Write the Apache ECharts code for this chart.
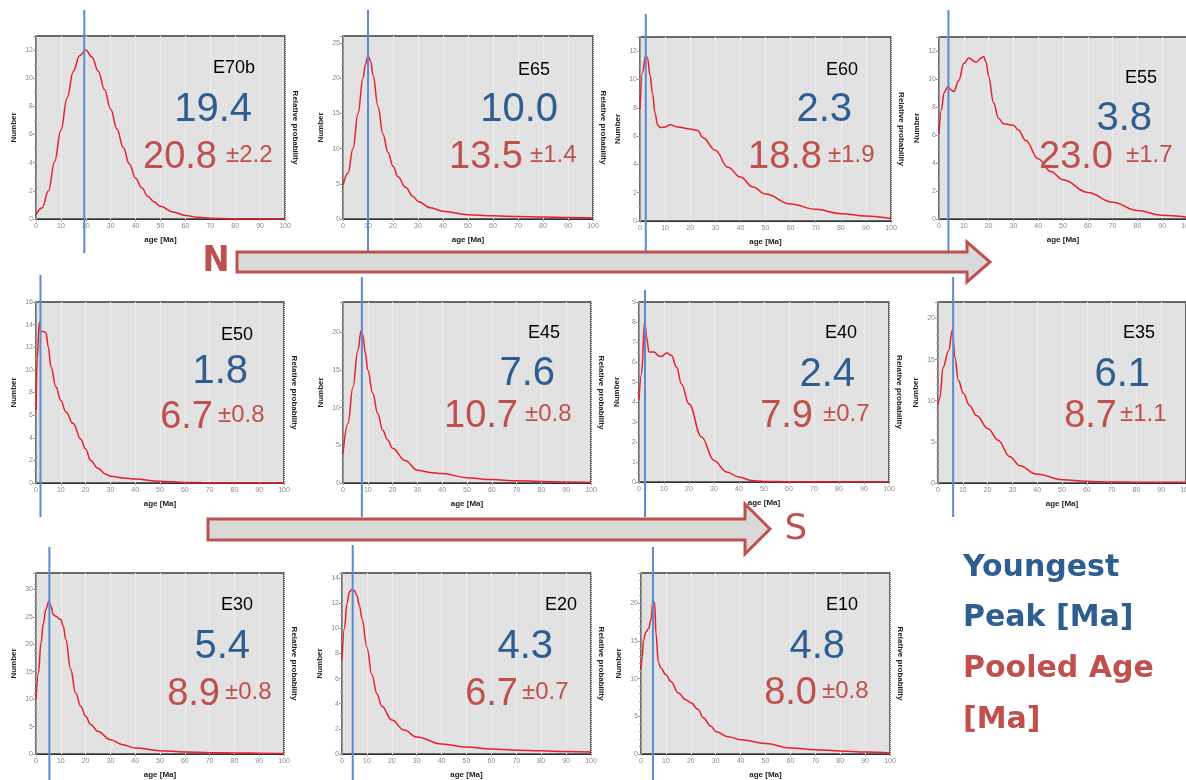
<!DOCTYPE html>
<html>
<head>
<meta charset="utf-8">
<script src="https://cdn.jsdelivr.net/npm/echarts@6/dist/echarts.min.js"></script>
<style>html,body{margin:0;padding:0;background:#fff}#c{width:1186px;height:780px}</style>
</head>
<body>
<div id="c"></div>
<script>
// ---------------- DATA ----------------
const panelNames   = ['E70b','E65','E60','E55','E50','E45','E40','E35','E30','E20','E10'];
const youngestPeak = [19.4, 10.0, 2.3, 3.8, 1.8, 7.6, 2.4, 6.1, 5.4, 4.3, 4.8];
const pooledAge    = [20.8, 13.5, 18.8, 23.0, 6.7, 10.7, 7.9, 8.7, 8.9, 6.7, 8.0];
const pooledErr    = [2.2, 1.4, 1.9, 1.7, 0.8, 0.8, 0.7, 1.1, 0.8, 0.7, 0.8];
const yAxisMax     = [13, 26, 13, 13, 16, 24, 9, 22, 33, 14.4, 24];
const yAxisStep    = [2, 5, 2, 2, 2, 5, 1, 5, 5, 2, 5];
const xAxisTicks   = [0, 10, 20, 30, 40, 50, 60, 70, 80, 90, 100];

const ageE70b = [0,2.5,5,7.5,10,12.5,15,17.5,20,22.5,25,27.5,30,32.5,35,37.5,40,42.5,45,47.5,50,55,60,65,70,80,100];
const numE70b = [0.3,0.8,2.0,4.1,6.3,8.6,10.5,11.6,12,11.5,10.5,9.2,7.8,6.4,5.1,3.9,2.9,2.2,1.6,1.2,0.9,0.5,0.25,0.12,0.06,0.02,0];
const ageE65 = [0,2,4,6,8,9,10,11,12,14,16,18,20,22,25,28,30,35,40,50,60,70,80,90,100];
const numE65 = [4.8,6.5,10,15,20,22,23.2,22.5,20.5,16,12,9.5,7.5,6,4.5,3.2,2.5,1.6,1.1,0.6,0.45,0.35,0.3,0.2,0.15];
const ageE60 = [0,1,2.3,3,4,5,6,7,8,10,12,15,20,23,25,30,35,40,45,50,60,70,80,90,100];
const numE60 = [7.9,10.5,11.7,11.5,10.3,9,7.6,6.8,6.6,6.65,6.8,6.65,6.5,6.4,5.9,5.0,3.8,3.1,2.4,1.9,1.2,0.83,0.52,0.35,0.17];
const ageE55 = [0,1,2,3.5,5,6,8,10,12,15,17,18,19,20,22,24,26,30,32,35,40,45,50,60,70,80,90,100];
const numE55 = [6.1,7.8,9.0,9.45,9.2,9.1,9.9,11.1,11.5,11.2,11.5,11.6,11.2,10.2,8.3,7.2,6.8,6.7,6.35,5.6,4.3,3.4,2.8,1.9,1.2,0.6,0.26,0.14];
const ageE50 = [0,0.5,1.3,1.8,3,4,5,6,8,10,12,15,18,20,22,25,28,30,35,40,50,60,70,100];
const numE50 = [6.4,11,14.2,13.4,13.4,13.3,12,10.3,8.5,7.3,6.3,5.25,3.9,3.0,2.0,1.3,0.8,0.6,0.45,0.35,0.15,0.05,0.02,0];
const ageE45 = [0,2,4,6,7.3,8,9,10,12,14,16,18,20,25,30,35,40,50,60,70,80,90,100];
const numE45 = [3.9,7.9,12.7,17.6,20.2,19.6,17.2,15,11.9,9.2,7,5.7,4.6,3.0,1.7,1.4,1.25,0.7,0.45,0.3,0.2,0.13,0.08];
const ageE40 = [0,1,2.3,3,4,6,8,9,11,13,15,17,20,25,30,35,40,45,50,60,100];
const numE40 = [4.1,5.4,8.1,7.25,6.5,6.5,6.3,6.28,6.45,6.33,5.75,4.9,3.9,2.25,1.08,0.5,0.25,0.08,0.03,0.01,0];
const ageE35 = [0,0.8,2,4.2,5.8,6.8,8.2,10.2,12.8,15.5,20.2,24.2,29,33,39.6,50.3,59.7,70,80,90,100];
const numE35 = [9.5,10.4,14,16,18.6,15.3,12.5,10.9,9.4,8.2,6.6,5.2,3.2,2.1,1.1,0.4,0.2,0.12,0.1,0.08,0.08];
const ageE30 = [0,1,2,3,4,5.2,6,7,8,10,11,12,14,16,18,20,22,25,30,35,40,50,60,70,80,90,100];
const numE30 = [9.9,14.8,20.3,23.9,26.4,27.9,27,25.4,25.1,24.5,23.3,20.9,15.4,11.1,8.7,6.9,5.4,4.1,2.6,1.7,1.1,0.6,0.37,0.25,0.2,0.15,0.1];
const ageE20 = [0,1,2,3,4,5,6,7,8,10,12,14,16,20,25,30,40,50,60,70,80,90,100];
const numE20 = [7.5,10,12,12.9,13.1,13,12.6,11.8,10.8,8.5,6.3,4.8,3.8,2.7,1.9,1.35,0.8,0.55,0.4,0.3,0.25,0.2,0.15];
const ageE10 = [0,0.5,1,2,3,4,4.8,5.5,6,7,8,10,12,15,18,20,23,25,28,30,35,40,50,60,70,80,90,100];
const numE10 = [11.2,12.9,15.1,16.2,16.6,17.8,20.4,20,16,12.1,11.4,10.5,9.6,8.1,7.2,6.8,5.9,4.8,3.7,3.0,2.3,1.9,1.4,0.8,0.57,0.4,0.26,0.13];

const legendPeakLines   = ['Youngest', 'Peak [Ma]'];
const legendPooledLines = ['Pooled Age', '[Ma]'];

// ---------------- LAYOUT ----------------
const curveAges = [ageE70b, ageE65, ageE60, ageE55, ageE50, ageE45, ageE40, ageE35, ageE30, ageE20, ageE10];
const curveNums = [numE70b, numE65, numE60, numE55, numE50, numE45, numE40, numE35, numE30, numE20, numE10];
// left, top, width, height of each plot area
const plotRects = [[36,36,249,183],[343,36,250,183],[640,37,251,184],[939,37,248,182],
                   [36,302,248,181],[343,302,248,181],[639,302,250,180],[938,302,248,181],
                   [36,573,248,181],[342,573,249,181],[641,573,249,181]];
// vertical extent of the youngest-peak line
const peakSpan = [[10,253],[10,253],[14,253],[10,253],[275,517],[277,517],[290,517],[277,517],[547,780],[545,780],[547,780]];
// text offsets relative to (plot right, plot top): nameDx,nameDy,blueDx,blueDy,redDx,redDy,pmDx
const textOff = [[-30,32,-33,74,-68,122,-59],[-43,34,-35,74,-70,122,-63],[-33,33,-39,73,-69,121,-63],[-30,41,-35,82,-74,121,-61],
                 [-31,33,-36,70,-71,116,-66],[-31,31,-36,72,-73,115,-66],[-32,31,-34,73,-76,115,-66],[-31,31,-36,73,-69,115,-66],
                 [-31,32,-34,74,-64,122,-59],[-14,32,-38,74,-73,122,-69],[-32,32,-45,74,-73,121,-68]];

const FONT = '"Liberation Sans", Arial, sans-serif';
const BLUE = '#2e5d91';
const RED = '#c0504d';

const grids = [], xAxes = [], yAxes = [], series = [], graphics = [];

for (let i = 0; i < panelNames.length; i++) {
  const [L, T, W, H] = plotRects[i];
  const step = yAxisStep[i];
  grids.push({left: L, top: T, width: W, height: H, show: true, backgroundColor: '#e2e2e2',
    borderColor: '#3c3c3c', borderWidth: 1.5, outerBoundsMode: 'none', containLabel: false});
  grids.push({left: L, top: peakSpan[i][0], width: W, height: peakSpan[i][1] - peakSpan[i][0], show: false,
    outerBoundsMode: 'none', containLabel: false});
  xAxes.push({
    type: 'value', gridIndex: 2*i, min: xAxisTicks[0], max: xAxisTicks[xAxisTicks.length-1],
    interval: xAxisTicks[1] - xAxisTicks[0],
    name: 'age [Ma]', nameLocation: 'middle', nameGap: 17,
    nameTextStyle: {fontSize: 8, fontWeight: 'bold', color: '#222', fontFamily: FONT},
    axisLine: {show: true, lineStyle: {color: '#333', width: 1}},
    axisTick: {show: true, length: 2, lineStyle: {color: '#999'}},
    axisLabel: {fontSize: 7, color: '#8a8a8a', margin: 4, fontFamily: FONT},
    splitLine: {show: true, lineStyle: {color: '#f8f8f8', type: 'dotted', width: 1}}
  });
  xAxes.push({type: 'value', gridIndex: 2*i+1, min: 0, max: 100, show: false});
  yAxes.push({
    type: 'value', gridIndex: 2*i, min: 0, max: yAxisMax[i], interval: step,
    name: 'Number', nameLocation: 'middle', nameRotate: 90, nameGap: 18,
    nameTextStyle: {fontSize: 8, fontWeight: 'bold', color: '#222', fontFamily: FONT},
    axisLine: {show: true, lineStyle: {color: '#999'}},
    axisTick: {show: true, length: 3, lineStyle: {color: '#999'}},
    minorTick: {show: true, splitNumber: step === 5 ? 5 : 2, length: 2, lineStyle: {color: '#aaa'}},
    axisLabel: {fontSize: 7, color: '#8a8a8a', margin: 3, fontFamily: FONT,
      formatter: v => (Math.abs(v/step - Math.round(v/step)) < 1e-6 ? String(v) : '')},
    splitLine: {show: false}
  });
  yAxes.push({
    type: 'value', gridIndex: 2*i, position: 'right', min: 0, max: 1,
    name: 'Relative probability', nameLocation: 'middle', nameRotate: -90, nameGap: 6,
    nameTextStyle: {fontSize: 8, fontWeight: 'bold', color: '#222', fontFamily: FONT},
    axisLine: {show: false}, axisTick: {show: false}, axisLabel: {show: false}, splitLine: {show: false}
  });
  yAxes.push({type: 'value', gridIndex: 2*i+1, min: 0, max: 1, show: false});

  series.push({
    type: 'line', xAxisIndex: 2*i, yAxisIndex: 3*i,
    data: curveAges[i].map((a, k) => [a, curveNums[i][k]]),
    smooth: 0.4, smoothMonotone: 'x', showSymbol: false, silent: true,
    lineStyle: {color: '#e8202a', width: 1.5}, z: 3
  });
  series.push({
    type: 'line', xAxisIndex: 2*i+1, yAxisIndex: 3*i+2,
    data: [[youngestPeak[i], 0], [youngestPeak[i], 1]],
    showSymbol: false, silent: true, lineStyle: {color: '#5b8bd0', width: 2}, z: 5
  });

  const R = L + W;
  const o = textOff[i];
  graphics.push({type: 'text', z: 100, x: R + o[0], y: T + o[1],
    style: {text: panelNames[i], fill: '#000', font: '18px ' + FONT, align: 'right', verticalAlign: 'middle', textAlign: 'right', textVerticalAlign: 'middle'}});
  graphics.push({type: 'text', z: 100, x: R + o[2], y: T + o[3],
    style: {text: youngestPeak[i].toFixed(1), fill: BLUE, font: '40px ' + FONT, align: 'right', verticalAlign: 'middle', textAlign: 'right', textVerticalAlign: 'middle'}});
  graphics.push({type: 'text', z: 100, x: R + o[4], y: T + o[5],
    style: {text: pooledAge[i].toFixed(1), fill: RED, font: '38px ' + FONT, align: 'right', verticalAlign: 'middle', textAlign: 'right', textVerticalAlign: 'middle'}});
  graphics.push({type: 'text', z: 100, x: R + o[6], y: T + o[5] - 3,
    style: {text: '\u00b1' + pooledErr[i].toFixed(1), fill: RED, font: '24px ' + FONT, align: 'left', verticalAlign: 'middle', textAlign: 'left', textVerticalAlign: 'middle'}});
}

// direction arrows
graphics.push({type: 'polygon', z: 110, shape: {points: [[237,252],[967,252],[967,242],[990,262],[967,282],[967,272],[237,272]]},
  style: {fill: '#d9d9d9', stroke: RED, lineWidth: 3}});
graphics.push({type: 'polygon', z: 110, shape: {points: [[208,519],[745,519],[745,504],[770,529],[745,554],[745,540],[208,540]]},
  style: {fill: '#d9d9d9', stroke: RED, lineWidth: 3}});
graphics.push({type: 'text', z: 110, x: 216, y: 262,
  style: {text: 'N', fill: RED, font: 'bold 36px "DejaVu Sans Condensed", "DejaVu Sans", sans-serif', align: 'center', verticalAlign: 'middle', textAlign: 'center', textVerticalAlign: 'middle'}});
graphics.push({type: 'text', z: 110, x: 796, y: 530,
  style: {text: 'S', fill: RED, font: '36px "DejaVu Sans", sans-serif', align: 'center', verticalAlign: 'middle', textAlign: 'center', textVerticalAlign: 'middle'}});

// legend text
const legendLines = legendPeakLines.map(t => [t, BLUE]).concat(legendPooledLines.map(t => [t, RED]));
const legendY = [568, 618, 669, 720];
legendLines.forEach((ln, k) => {
  graphics.push({type: 'text', z: 110, x: 963, y: legendY[k],
    style: {text: ln[0], fill: ln[1], font: 'bold 30px "DejaVu Sans", sans-serif', align: 'left', verticalAlign: 'middle', textAlign: 'left', textVerticalAlign: 'middle'}});
});

const chart = echarts.init(document.getElementById('c'), null, {renderer: 'canvas'});
chart.setOption({
  animation: false,
  backgroundColor: '#ffffff',
  grid: grids, xAxis: xAxes, yAxis: yAxes, series: series, graphic: graphics
});
</script>
</body>
</html>
